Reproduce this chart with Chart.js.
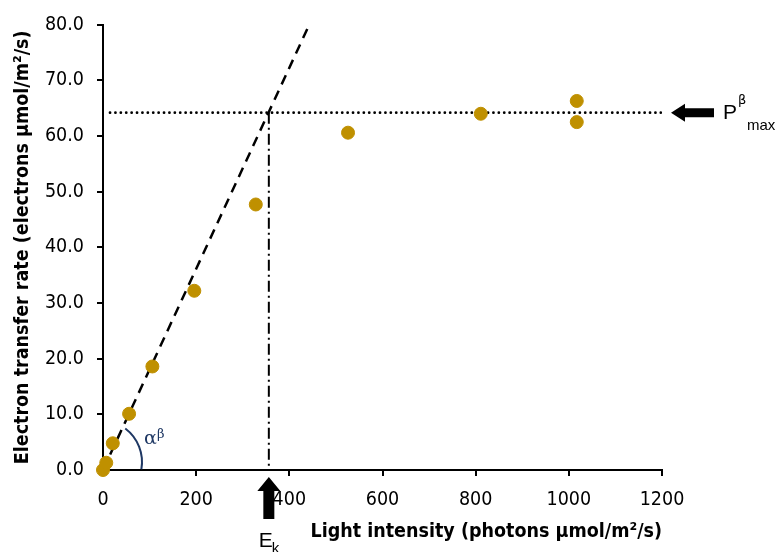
<!DOCTYPE html>
<html lang="en">
<head>
    <meta charset="UTF-8">
    <title>Light response curve</title>
    <script src="https://cdn.jsdelivr.net/npm/chart.js"></script>
    <style>
        html, body { margin: 0; padding: 0; background: #fff; }
        #wrap { width: 777px; height: 552px; }
    </style>
</head>
<body>
    <div id="wrap"><canvas id="lightChart" width="777" height="552"></canvas></div>

    <script>
        // measured points
        const lightIntensity = [0, 7, 21, 56, 106, 196, 328, 526, 811, 1017, 1017];
        const transferRate = [0, 1.3, 4.8, 10.1, 18.6, 32.2, 47.7, 60.6, 64.0, 66.3, 62.5];

        // initial slope line (alpha) and saturation level (Pmax)
        const slopeLineX = [0, 440];
        const slopeLineY = [0, 79.5];
        const pmaxLineX = [15, 1200];
        const pmax = 64.2;
        const ek = 356;

        const xTicks = [0, 200, 400, 600, 800, 1000, 1200];
        const yTicks = [0, 10, 20, 30, 40, 50, 60, 70, 80];

        const FONT = 'DejaVu Sans Condensed, Liberation Sans, sans-serif';
        const GOLD = '#BF9000';

        const pts = (xs, ys) => xs.map((x, i) => ({ x: x, y: ys[i] }));

        // arrows, E_k / Pmax labels and the alpha arc
        const notes = {
            id: 'notes',
            afterDraw(chart) {
                const ctx = chart.ctx;
                const xs = chart.scales.x, ys = chart.scales.y;
                const ox = xs.getPixelForValue(0), oy = ys.getPixelForValue(0);
                ctx.save();

                // alpha arc
                ctx.strokeStyle = '#1F3864';
                ctx.lineWidth = 2;
                ctx.beginPath();
                ctx.arc(ox - 3, oy - 8, 42, -53 * Math.PI / 180, 10 * Math.PI / 180);
                ctx.stroke();
                ctx.fillStyle = '#1F3864';
                ctx.font = '19px DejaVu Serif, serif';
                ctx.textBaseline = 'alphabetic';
                ctx.fillText('\u03b1', ox + 41, oy - 26);
                ctx.font = '13px DejaVu Serif, serif';
                ctx.fillText('\u03b2', ox + 54, oy - 32);

                ctx.fillStyle = '#000';
                // E_k arrow (points up at axis)
                const ex = xs.getPixelForValue(ek), by = ys.bottom;
                ctx.beginPath();
                ctx.moveTo(ex, by + 7);
                ctx.lineTo(ex + 11.5, by + 21);
                ctx.lineTo(ex + 5.5, by + 21);
                ctx.lineTo(ex + 5.5, by + 49);
                ctx.lineTo(ex - 5.5, by + 49);
                ctx.lineTo(ex - 5.5, by + 21);
                ctx.lineTo(ex - 11.5, by + 21);
                ctx.closePath();
                ctx.fill();
                ctx.font = '21px Liberation Sans, sans-serif';
                ctx.fillText('E', ex - 10, by + 77);
                ctx.font = '15px Liberation Sans, sans-serif';
                ctx.fillText('k', ex + 3, by + 83);

                // Pmax arrow (points left at dotted line)
                const py = ys.getPixelForValue(pmax), rx = xs.right;
                ctx.beginPath();
                ctx.moveTo(rx + 9, py);
                ctx.lineTo(rx + 23, py - 9);
                ctx.lineTo(rx + 23, py - 4.5);
                ctx.lineTo(rx + 52, py - 4.5);
                ctx.lineTo(rx + 52, py + 4.5);
                ctx.lineTo(rx + 23, py + 4.5);
                ctx.lineTo(rx + 23, py + 9);
                ctx.closePath();
                ctx.fill();
                ctx.font = '21px Liberation Sans, sans-serif';
                ctx.fillText('P', rx + 61, py + 6);
                ctx.font = '13px DejaVu Sans, sans-serif';
                ctx.fillText('\u03b2', rx + 76, py - 9);
                ctx.font = '15px Liberation Sans, sans-serif';
                ctx.fillText('max', rx + 85, py + 17);
                ctx.restore();
            }
        };

        const lightChart = new Chart(document.getElementById('lightChart'), {
            type: 'scatter',
            data: {
                datasets: [{
                    label: 'Electron transfer rate',
                    data: pts(lightIntensity, transferRate),
                    backgroundColor: GOLD,
                    borderColor: GOLD,
                    pointRadius: 6.5,
                    pointHoverRadius: 6.5,
                    clip: false
                }, {
                    label: 'alpha',
                    type: 'line',
                    data: pts(slopeLineX, slopeLineY),
                    borderColor: '#000',
                    borderWidth: 2.5,
                    borderDash: [10, 7],
                    pointRadius: 0,
                    fill: false
                }, {
                    label: 'Pmax',
                    type: 'line',
                    data: pts(pmaxLineX, [pmax, pmax]),
                    borderColor: '#000',
                    borderWidth: 2.7,
                    borderDash: [0.1, 5.3],
                    borderCapStyle: 'round',
                    pointRadius: 0,
                    fill: false
                }, {
                    label: 'Ek',
                    type: 'line',
                    data: pts([ek, ek], [pmax, 0]),
                    borderColor: '#000',
                    borderWidth: 2,
                    borderDash: [11, 4, 2, 4],
                    pointRadius: 0,
                    fill: false
                }]
            },
            options: {
                responsive: false,
                animation: false,
                layout: { padding: { left: 0, right: 115, top: 24, bottom: 0 } },
                plugins: {
                    legend: { display: false },
                    tooltip: { enabled: false }
                },
                scales: {
                    x: {
                        type: 'linear',
                        min: 0,
                        max: 1200,
                        afterFit: (s) => { s.height = 82; },
                        afterBuildTicks: (s) => { s.ticks = xTicks.map(v => ({ value: v })); },
                        ticks: {
                            color: '#000',
                            padding: 12,
                            font: { family: FONT, size: 19.5 },
                            callback: (v) => String(v)
                        },
                        grid: { drawOnChartArea: false, color: '#000', lineWidth: 2, tickLength: 6 },
                        border: { color: '#000', width: 2 },
                        title: {
                            display: true,
                            align: 'end',
                            text: 'Light intensity (photons \u00b5mol/m\u00b2/s)',
                            color: '#000',
                            padding: { top: 0, bottom: 8 },
                            font: { family: FONT, size: 19.5, weight: 'bold' }
                        }
                    },
                    y: {
                        min: 0,
                        max: 80,
                        afterFit: (s) => { s.width = 103; },
                        afterBuildTicks: (s) => { s.ticks = yTicks.map(v => ({ value: v })); },
                        ticks: {
                            color: '#000',
                            padding: 13,
                            font: { family: FONT, size: 19.5 },
                            callback: (v) => Number(v).toFixed(1)
                        },
                        grid: { drawOnChartArea: false, color: '#000', lineWidth: 2, tickLength: 6 },
                        border: { color: '#000', width: 2 },
                        title: {
                            display: true,
                            text: 'Electron transfer rate (electrons \u00b5mol/m\u00b2/s)',
                            color: '#000',
                            padding: { top: 11, bottom: 0 },
                            font: { family: FONT, size: 19.5, weight: 'bold' }
                        }
                    }
                }
            },
            plugins: [notes]
        });
    </script>
</body>
</html>
